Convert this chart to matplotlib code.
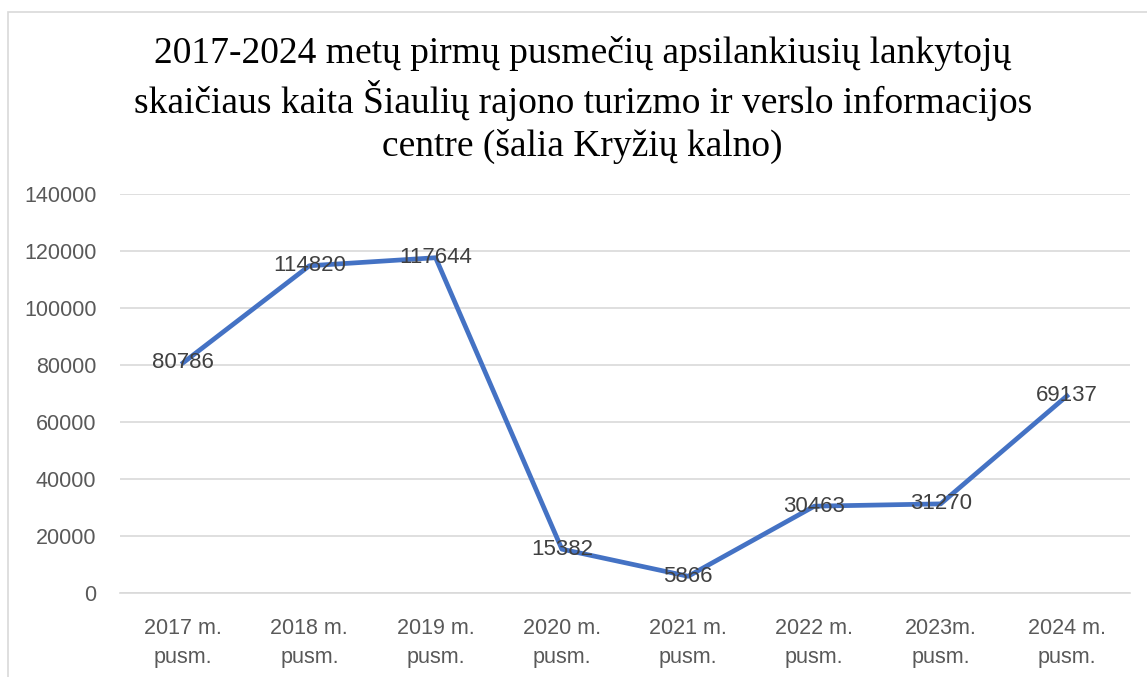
import matplotlib
matplotlib.use("Agg")
import matplotlib.pyplot as plt
from matplotlib.patches import Rectangle

# duomenys
metai = ["2017 m.\npusm.", "2018 m.\npusm.", "2019 m.\npusm.", "2020 m.\npusm.",
         "2021 m.\npusm.", "2022 m.\npusm.", "2023m.\npusm.", "2024 m.\npusm."]
lankytojai = [80786, 114820, 117644, 15382, 5866, 30463, 31270, 69137]
y_ticks = [0, 20000, 40000, 60000, 80000, 100000, 120000, 140000]

title = ("2017-2024 metų pirmų pusmečių apsilankiusių lankytojų\n"
         "skaičiaus kaita Šiaulių rajono turizmo ir verslo informacijos\n"
         "centre (šalia Kryžių kalno)")

W, H = 1147, 677
fig = plt.figure(figsize=(W / 100, H / 100), dpi=100)

# remelis aplink diagrama (desine ir apacia uz paveikslo ribu)
fig.patches.append(Rectangle((8 / W, -0.2), 1.2, 1.2 - 12 / H, transform=fig.transFigure,
                             fill=False, edgecolor="#D9D9D9", linewidth=1.2))

ax = fig.add_axes([120 / W, 1 - 593 / H, (1130 - 120) / W, (593 - 194) / H])
x = list(range(len(metai)))
ax.plot(x, lankytojai, color="#4472C4", linewidth=3.4, solid_joinstyle="round", zorder=3)
for xi, v in zip(x, lankytojai):
    ax.text(xi, v, str(v), ha="center", va="center", fontsize=16,
            family="Liberation Sans", color="#404040", zorder=4)

ax.set_xlim(-0.5, len(metai) - 0.5)
ax.set_ylim(0, 140000)
ax.set_yticks(y_ticks)
ax.set_yticklabels([str(t) for t in y_ticks])
ax.set_xticks(x)
ax.set_xticklabels(metai, linespacing=1.5)
ax.grid(axis="y", color="#D9D9D9", linewidth=1.2)
ax.set_axisbelow(True)
for s in ["top", "right", "left"]:
    ax.spines[s].set_visible(False)
ax.spines["bottom"].set_color("#D9D9D9")
ax.spines["bottom"].set_linewidth(1.2)
ax.tick_params(length=0, labelsize=15.5, labelcolor="#595959")
ax.tick_params(axis="y", pad=17)
ax.tick_params(axis="x", pad=18)
for lab in ax.get_xticklabels() + ax.get_yticklabels():
    lab.set_family("Liberation Sans")

fig.text(0.508, 1 - 100 / H, title, ha="center", va="center", fontsize=27,
         family="Liberation Serif", color="black", linespacing=1.28)

fig.savefig("out.png", dpi=100, facecolor="white")
